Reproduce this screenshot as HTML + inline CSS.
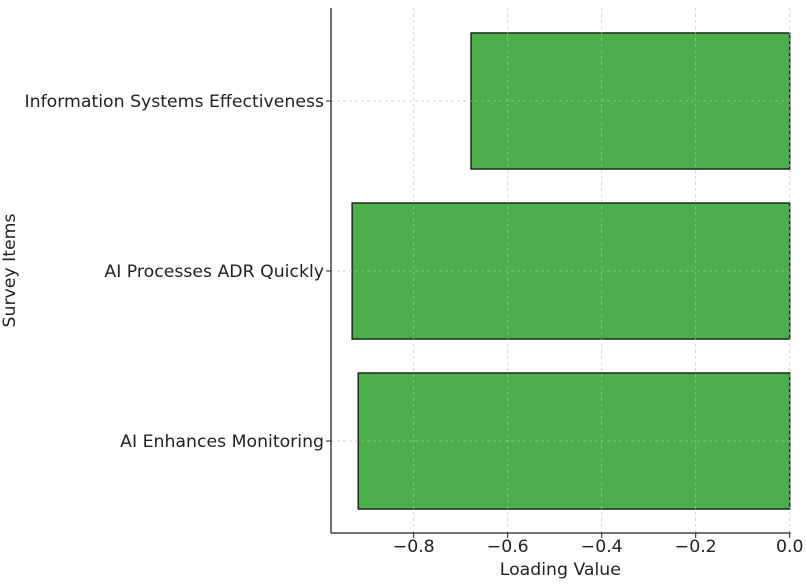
<!DOCTYPE html>
<html><head><meta charset="utf-8"><style>
body{margin:0;background:#fff}
svg text{font-family:"DejaVu Sans","Liberation Sans",sans-serif;fill:#222}
</style></head><body>
<svg id="chart" width="806" height="580" xmlns="http://www.w3.org/2000/svg"></svg>
<script>
const categories = ["AI Enhances Monitoring", "AI Processes ADR Quickly", "Information Systems Effectiveness"];
const loadings = [-0.918, -0.931, -0.678];
const xTicks = [-0.8, -0.6, -0.4, -0.2, 0.0];
const xTickLabels = ["\u22120.8", "\u22120.6", "\u22120.4", "\u22120.2", "0.0"];

const svg = document.getElementById('chart');
const NS = 'http://www.w3.org/2000/svg';
const L = 331, R = 789.7, T = 8, B = 533;
const xMin = -0.976, xMax = 0;
const yMin = -0.541, yMax = 2.547;
const FS = 17.3;
const xs = v => L + (v - xMin) / (xMax - xMin) * (R - L);
const ys = v => B - (v - yMin) / (yMax - yMin) * (B - T);
const bandH = 0.8 * (ys(0) - ys(1));
function mk(tag, attrs, parent) {
  const e = document.createElementNS(NS, tag);
  for (const k in attrs) e.setAttribute(k, attrs[k]);
  (parent || svg).appendChild(e);
  return e;
}
categories.forEach((c, i) => {
  const x0 = xs(loadings[i]), x1 = xs(0);
  const r = mk('rect', {x: x0, y: ys(i) - bandH / 2, width: x1 - x0, height: bandH, fill: '#4caf4c', stroke: '#1a2a1a', 'stroke-width': 1.5});
  
  
});
xTicks.forEach((t, i) => {
  const g = mk('line', {x1: xs(t), x2: xs(t), y1: T, y2: B, stroke: '#bbb', 'stroke-width': 0.8, 'stroke-dasharray': '3,3', opacity: 0.8});
  
  
  mk('line', {x1: xs(t), x2: xs(t), y1: B, y2: B + 5, stroke: '#222', 'stroke-width': 1});
  const tx = mk('text', {x: xs(t), y: B + 19, 'text-anchor': 'middle', 'font-size': FS});
  tx.textContent = xTickLabels[i];
  
  
});
categories.forEach((c, i) => {
  const g = mk('line', {x1: L, x2: R, y1: ys(i), y2: ys(i), stroke: '#bbb', 'stroke-width': 0.8, 'stroke-dasharray': '3,3', opacity: 0.8});
  
  
  mk('line', {x1: L - 5, x2: L, y1: ys(i), y2: ys(i), stroke: '#222', 'stroke-width': 1});
  const tx = mk('text', {x: L - 7, y: ys(i) + 6, 'text-anchor': 'end', 'font-size': FS});
  tx.textContent = c;
  
  
});
const ls = mk('line', {x1: L, x2: L, y1: T, y2: B, stroke: '#222', 'stroke-width': 1.3});


const bs = mk('line', {x1: L, x2: R + 1, y1: B, y2: B, stroke: '#222', 'stroke-width': 1.3});


const xt = mk('text', {x: (L + R) / 2, y: 575, 'text-anchor': 'middle', 'font-size': FS});
xt.textContent = 'Loading Value';


const yt = mk('text', {x: 0, y: 0, 'text-anchor': 'middle', 'font-size': FS, transform: 'translate(15,' + (T + B) / 2 + ') rotate(-90)'});
yt.textContent = 'Survey Items';


</script>
</body></html>
